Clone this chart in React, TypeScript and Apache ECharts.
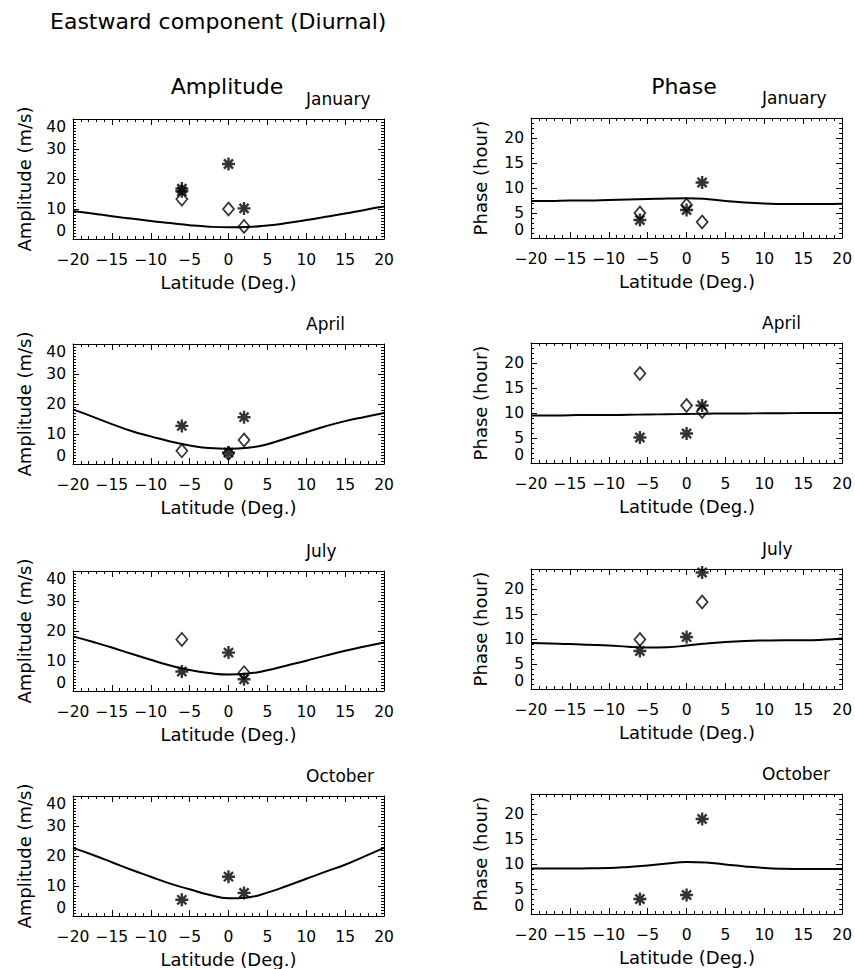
import React, { useEffect, useRef } from "react";
import * as echarts from "echarts";

// ---------- data ----------
const modelLat = [-20, -17.5, -15, -12.5, -10, -7.5, -5, -2.5, 0, 2.5, 5, 7.5, 10, 12.5, 15, 17.5, 20];

const ampJanModel = [9.3, 8.5, 7.6, 6.8, 6.0, 5.3, 4.6, 4.1, 3.9, 4.0, 4.5, 5.3, 6.3, 7.4, 8.5, 9.7, 10.8];
const ampAprModel = [18.2, 15.8, 13.3, 11.0, 9.2, 7.5, 6.2, 5.3, 5.1, 5.4, 6.6, 8.6, 10.6, 12.6, 14.3, 15.7, 17.0];
const ampJulModel = [18.2, 16.4, 14.5, 12.4, 10.4, 8.5, 7.0, 6.0, 5.5, 5.8, 6.9, 8.5, 10.1, 11.8, 13.4, 14.8, 16.2];
const ampOctModel = [22.7, 20.4, 17.9, 15.4, 13.1, 10.8, 8.9, 7.1, 5.9, 6.2, 7.8, 10.0, 12.4, 14.8, 17.1, 19.9, 22.7];

const phaseJanModel = [7.4, 7.4, 7.5, 7.5, 7.6, 7.7, 7.8, 7.9, 7.95, 7.8, 7.4, 7.1, 6.9, 6.8, 6.8, 6.8, 6.85];
const phaseAprModel = [9.5, 9.5, 9.55, 9.6, 9.6, 9.65, 9.7, 9.75, 9.8, 9.85, 9.9, 9.9, 9.95, 9.95, 10.0, 10.0, 10.0];
const phaseJulModel = [9.2, 9.1, 9.0, 8.85, 8.7, 8.45, 8.3, 8.35, 8.7, 9.1, 9.4, 9.6, 9.7, 9.75, 9.75, 9.85, 10.1];
const phaseOctModel = [9.1, 9.1, 9.1, 9.15, 9.2, 9.4, 9.7, 10.1, 10.4, 10.3, 9.9, 9.5, 9.2, 9.05, 9.0, 9.0, 9.0];

// observations: [latitude, value]
const ampJanStar = [[-6, 16.8], [-6, 15.9], [0, 25.0], [2, 10.2]];
const ampJanDiamond = [[-6, 13.3], [0, 10.0], [2, 4.2]];
const phaseJanStar = [[-6, 3.6], [0, 5.6], [2, 11.1]];
const phaseJanDiamond = [[-6, 5.0], [0, 6.6], [2, 3.2]];

const ampAprStar = [[-6, 12.7], [0, 3.8], [2, 15.6]];
const ampAprDiamond = [[-6, 4.4], [0, 3.5], [2, 8.0]];
const phaseAprStar = [[-6, 5.1], [0, 5.9], [2, 11.5]];
const phaseAprDiamond = [[-6, 17.9], [0, 11.5], [2, 10.3]];

const ampJulStar = [[-6, 6.5], [0, 12.8], [2, 3.9]];
const ampJulDiamond = [[-6, 17.2], [2, 6.1]];
const phaseJulStar = [[-6, 7.6], [0, 10.4], [2, 23.3]];
const phaseJulDiamond = [[-6, 9.9], [2, 17.4]];

const ampOctStar = [[-6, 5.4], [0, 13.1], [2, 7.7]];
const ampOctDiamond: number[][] = [];
const phaseOctStar = [[-6, 3.0], [0, 3.8], [2, 19.0]];
const phaseOctDiamond: number[][] = [];

const months = ["January", "April", "July", "October"];
const ampTicks = { min: 0, max: 40, interval: 10 };
const phaseTicks = { min: 0, max: 24, interval: 5 };
const latTicks = { min: -20, max: 20, interval: 5 };

// ---------- layout ----------
const FONT = "'DejaVu Sans', sans-serif";
const AMP_LEFT = 73;
const AMP_W = 311;
const PH_LEFT = 531;
const PH_W = 312;
const BOX_H = 120;
const AMP_TOPS = [119, 344, 571, 796];
const PH_TOPS = [118, 343, 569, 794];

const STAR = "path://M5,0L5,10M0,5L10,5M1.5,1.5L8.5,8.5M1.5,8.5L8.5,1.5";

const fmt = (v: number) => (v < 0 ? "\u2212" + Math.abs(v) : String(v));

export default function App() {
  const ref = useRef<HTMLDivElement>(null);
  useEffect(() => {
    document.body.style.margin = "0";
    const chart = echarts.init(ref.current!, null, { renderer: "svg" });

    const panels = [
      { amp: true, row: 0, model: ampJanModel, star: ampJanStar, dia: ampJanDiamond },
      { amp: false, row: 0, model: phaseJanModel, star: phaseJanStar, dia: phaseJanDiamond },
      { amp: true, row: 1, model: ampAprModel, star: ampAprStar, dia: ampAprDiamond },
      { amp: false, row: 1, model: phaseAprModel, star: phaseAprStar, dia: phaseAprDiamond },
      { amp: true, row: 2, model: ampJulModel, star: ampJulStar, dia: ampJulDiamond },
      { amp: false, row: 2, model: phaseJulModel, star: phaseJulStar, dia: phaseJulDiamond },
      { amp: true, row: 3, model: ampOctModel, star: ampOctStar, dia: ampOctDiamond },
      { amp: false, row: 3, model: phaseOctModel, star: phaseOctStar, dia: phaseOctDiamond },
    ];

    const grid: any[] = [];
    const xAxis: any[] = [];
    const yAxis: any[] = [];
    const series: any[] = [];
    const graphic: any[] = [];

    const black = { color: "#000", width: 1 };

    panels.forEach((p, i) => {
      const left = p.amp ? AMP_LEFT : PH_LEFT;
      const width = p.amp ? AMP_W : PH_W;
      const top = p.amp ? AMP_TOPS[p.row] : PH_TOPS[p.row];
      grid.push({ left, top, width, height: BOX_H, containLabel: false });
      const yt = p.amp ? ampTicks : phaseTicks;
      const common = {
        gridIndex: i,
        type: "value",
        axisLine: { show: true, onZero: false, lineStyle: black },
        axisTick: { show: true, inside: true, length: 6, lineStyle: black },
        splitLine: { show: false },
      };
      xAxis.push({
        ...common,
        ...latTicks,
        position: "bottom",
        minorTick: { show: true, splitNumber: 5, length: 3, lineStyle: black },
        axisLabel: { show: true, formatter: fmt, margin: 13, fontSize: 15.5, color: "#000", fontFamily: FONT },
      });
      xAxis.push({
        ...common,
        ...latTicks,
        position: "top",
        minorTick: { show: true, splitNumber: 5, length: 3, lineStyle: black },
        axisLabel: { show: false },
      });
      yAxis.push({
        ...common,
        ...yt,
        position: "left",
        minorTick: { show: true, splitNumber: p.amp ? 10 : 5, length: 3, lineStyle: black },
        axisLabel: {
          show: true,
          margin: 7,
          fontSize: 15.5,
          color: "#000",
          fontFamily: FONT,
          showMaxLabel: p.amp,
          verticalAlignMinLabel: "bottom",
          verticalAlignMaxLabel: "top",
        },
      });
      yAxis.push({
        ...common,
        ...yt,
        position: "right",
        minorTick: { show: true, splitNumber: p.amp ? 10 : 5, length: 3, lineStyle: black },
        axisLabel: { show: false },
      });
      const xi = i * 2;
      const yi = i * 2;
      series.push({
        type: "line",
        xAxisIndex: xi,
        yAxisIndex: yi,
        data: modelLat.map((x, k) => [x, p.model[k]]),
        smooth: true,
        showSymbol: false,
        lineStyle: { color: "#000", width: 2 },
        silent: true,
      });
      series.push({
        type: "scatter",
        xAxisIndex: xi,
        yAxisIndex: yi,
        data: p.star,
        symbol: STAR,
        symbolSize: 13,
        itemStyle: { color: "rgba(0,0,0,0)", borderColor: "#000", borderWidth: 2.4 },
      });
      series.push({
        type: "scatter",
        xAxisIndex: xi,
        yAxisIndex: yi,
        data: p.dia,
        symbol: "diamond",
        symbolSize: [11, 13],
        itemStyle: { color: "rgba(0,0,0,0)", borderColor: "#000", borderWidth: 1.7 },
      });

      // month label
      graphic.push({
        type: "text",
        x: p.amp ? 306 : 762,
        y: top - 20,
        style: { text: months[p.row], font: `17px ${FONT}`, fill: "#000", align: "left", verticalAlign: "middle" },
      });
      // x axis name
      graphic.push({
        type: "text",
        x: left + width / 2,
        y: top + BOX_H + 43,
        style: { text: "Latitude (Deg.)", font: `18px ${FONT}`, fill: "#000", align: "center", verticalAlign: "middle" },
      });
      // y axis name
      graphic.push({
        type: "text",
        x: p.amp ? 24 : 480,
        y: top + BOX_H / 2,
        rotation: Math.PI / 2,
        style: {
          text: p.amp ? "Amplitude (m/s)" : "Phase (hour)",
          font: `18px ${FONT}`,
          fill: "#000",
          align: "center",
          verticalAlign: "middle",
        },
      });
    });

    graphic.push({
      type: "text",
      x: 50,
      y: 21,
      style: { text: "Eastward component (Diurnal)", font: `22px ${FONT}`, fill: "#000", align: "left", verticalAlign: "middle" },
    });
    graphic.push({
      type: "text",
      x: 227,
      y: 86,
      style: { text: "Amplitude", font: `22px ${FONT}`, fill: "#000", align: "center", verticalAlign: "middle" },
    });
    graphic.push({
      type: "text",
      x: 684,
      y: 86,
      style: { text: "Phase", font: `22px ${FONT}`, fill: "#000", align: "center", verticalAlign: "middle" },
    });

    chart.setOption({
      animation: false,
      backgroundColor: "#fff",
      grid,
      xAxis,
      yAxis,
      series,
      graphic,
    });
    return () => chart.dispose();
  }, []);
  return <div ref={ref} style={{ width: 855, height: 969 }} />;
}
